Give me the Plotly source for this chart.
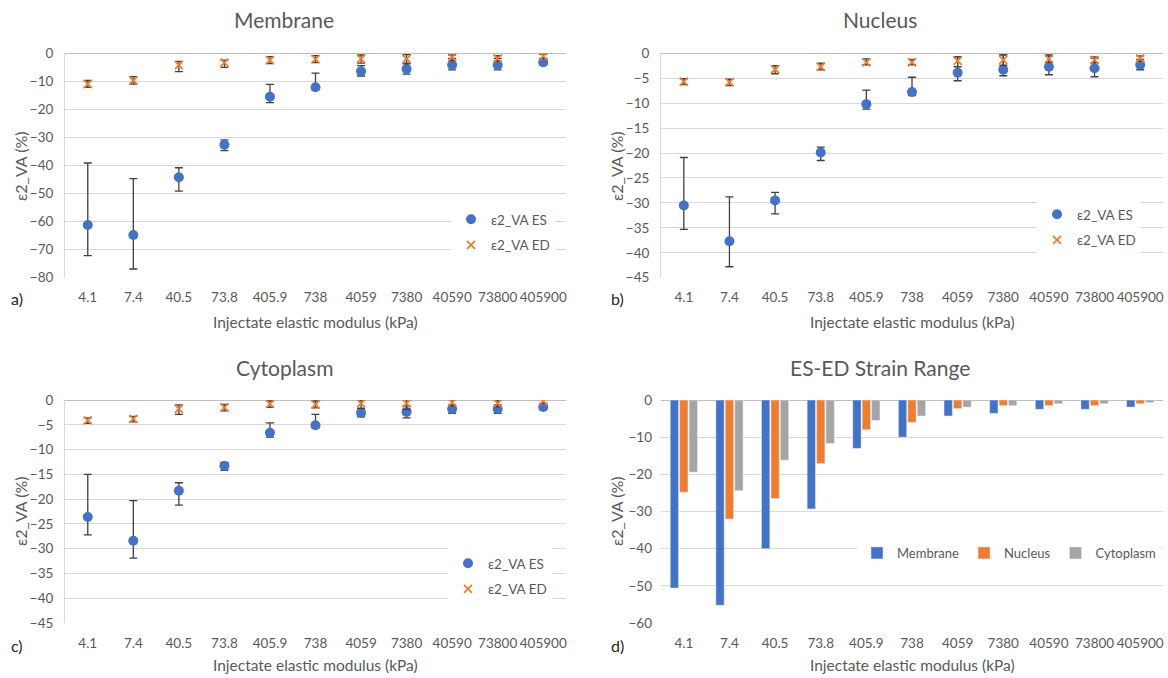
import plotly.graph_objects as go

# Injectate elastic modulus categories (kPa)
moduli = ["4.1", "7.4", "40.5", "73.8", "405.9", "738", "4059", "7380", "40590", "73800", "405900"]

# Membrane strain (%), ES mean with upper/lower error bar bounds, ED mean with errors
membrane_es = [-61.2, -64.8, -44.2, -32.6, -15.5, -12.1, -6.4, -5.6, -4.2, -4.2, -3.2]
membrane_es_hi = [-39.1, -44.7, -40.8, -30.9, -11.1, -7.1, -4.4, -3.5, -1.8, -1.8, -2.1]
membrane_es_lo = [-72.1, -76.9, -49.1, -34.7, -17.6, -13.0, -8.1, -7.4, -5.9, -5.9, -4.2]
membrane_ed = [-11.0, -9.7, -4.2, -3.3, -2.4, -2.1, -2.0, -2.0, -1.4, -1.8, -1.0]
membrane_ed_up = [1.3, 1.4, 1.3, 0.9, 1.2, 1.3, 1.4, 1.5, 0.8, 1.0, 0.6]
membrane_ed_dn = [1.1, 1.3, 2.3, 1.7, 1.3, 1.2, 1.5, 1.8, 1.2, 1.0, 0.8]

# Nucleus strain (%)
nucleus_es = [-30.5, -37.7, -29.5, -19.9, -10.2, -7.75, -3.9, -3.3, -2.7, -3.0, -2.3]
nucleus_es_hi = [-20.9, -28.8, -27.9, -18.8, -7.4, -4.8, -0.7, -0.3, -0.5, -1.0, -1.2]
nucleus_es_lo = [-35.3, -42.8, -32.2, -21.5, -11.2, -8.5, -5.5, -4.5, -4.3, -4.7, -3.3]
nucleus_ed = [-5.7, -5.8, -3.2, -2.7, -1.8, -1.8, -1.5, -1.3, -1.1, -1.3, -1.0]
nucleus_ed_up = [0.6, 0.6, 0.7, 0.7, 0.7, 0.6, 0.8, 1.0, 0.8, 0.6, 0.5]
nucleus_ed_dn = [0.6, 0.7, 0.9, 0.6, 0.5, 0.5, 1.2, 1.1, 0.7, 0.6, 0.6]

# Cytoplasm strain (%)
cytoplasm_es = [-23.6, -28.4, -18.3, -13.3, -6.6, -5.1, -2.6, -2.4, -1.8, -1.8, -1.4]
cytoplasm_es_hi = [-15.0, -20.3, -16.7, -12.6, -4.6, -2.9, -1.7, -1.2, -1.0, -1.0, -0.9]
cytoplasm_es_lo = [-27.2, -31.9, -21.2, -14.2, -7.5, -5.6, -3.4, -3.6, -2.7, -2.7, -2.0]
cytoplasm_ed = [-4.1, -3.8, -1.8, -1.5, -0.8, -0.9, -0.7, -0.7, -0.5, -0.7, -0.2]
cytoplasm_ed_up = [0.5, 0.5, 0.8, 0.6, 0.6, 0.7, 0.7, 0.8, 0.6, 0.7, 0.5]
cytoplasm_ed_dn = [0.6, 0.6, 1.1, 0.7, 0.7, 0.7, 1.0, 1.2, 0.7, 0.7, 0.5]

# ES-ED strain range (%)
range_membrane = [-50.6, -55.2, -40.0, -29.3, -13.0, -10.0, -4.3, -3.6, -2.5, -2.5, -1.9]
range_nucleus = [-24.8, -32.0, -26.5, -17.1, -8.0, -6.0, -2.3, -1.5, -1.5, -1.5, -1.0]
range_cytoplasm = [-19.4, -24.4, -16.2, -11.7, -5.5, -4.3, -1.9, -1.5, -1.0, -1.0, -0.7]

W, H = 1168, 678
FONT = "Lato"
TXT = "#595959"
BLUE, ORANGE, GRAY = "#4472C4", "#ED7D31", "#A5A5A5"
ERR = "#404040"


def px(x, y):
    return x / W, 1 - y / H


fig = go.Figure()

panels = [
    ("x", "y", "legend", membrane_es, membrane_es_hi, membrane_es_lo, membrane_ed, membrane_ed_up, membrane_ed_dn),
    ("x2", "y2", "legend2", nucleus_es, nucleus_es_hi, nucleus_es_lo, nucleus_ed, nucleus_ed_up, nucleus_ed_dn),
    ("x3", "y3", "legend3", cytoplasm_es, cytoplasm_es_hi, cytoplasm_es_lo, cytoplasm_ed, cytoplasm_ed_up, cytoplasm_ed_dn),
]

for xa, ya, lg, es, es_hi, es_lo, ed, ed_up, ed_dn in panels:
    fig.add_trace(go.Scatter(
        x=moduli, y=es, mode="markers", name="ε2_VA ES", xaxis=xa, yaxis=ya,
        legend=lg, legendgroup=lg + "es",
        marker=dict(symbol="circle", size=10, color=BLUE),
        error_y=dict(type="data", symmetric=False,
                     array=[h - v for h, v in zip(es_hi, es)],
                     arrayminus=[v - l for v, l in zip(es, es_lo)],
                     color=ERR, thickness=1.3, width=4),
    ))
    fig.add_trace(go.Scatter(
        x=moduli, y=ed, mode="markers", name="ε2_VA ED", xaxis=xa, yaxis=ya,
        legend=lg, legendgroup=lg + "ed",
        marker=dict(symbol="x-thin", size=8, color=ORANGE, line=dict(color=ORANGE, width=1.8)),
        error_y=dict(type="data", symmetric=False, array=ed_up, arrayminus=ed_dn,
                     color=ERR, thickness=1.3, width=4),
    ))

for name, vals, col in [("Membrane", range_membrane, BLUE),
                        ("Nucleus", range_nucleus, ORANGE),
                        ("Cytoplasm", range_cytoplasm, GRAY)]:
    fig.add_trace(go.Bar(x=moduli, y=vals, name=name, marker_color=col,
                         xaxis="x4", yaxis="y4", legend="legend4"))

left_dom = [65 / W, 566 / W]
right_dom = [661 / W, 1163 / W]
top_dom = [1 - 277.7 / H, 1 - 53.3 / H]
bot_dom = [1 - 623 / H, 1 - 400 / H]


def xaxis(dom, anchor):
    return dict(domain=dom, anchor=anchor, type="category", range=[-0.5, 10.5],
                showgrid=False, showline=False, zeroline=False, ticks="", automargin=False,
                tickfont=dict(family=FONT, size=13.5, color=TXT), ticklabelstandoff=10,
                fixedrange=True)


def yaxis(dom, anchor, rng, dt, line):
    return dict(domain=dom, anchor=anchor, range=rng, dtick=dt, tick0=0, automargin=False,
                showgrid=True, gridcolor="#D9D9D9", gridwidth=1,
                zeroline=True, zerolinecolor="#BFBFBF", zerolinewidth=1,
                showline=line, linecolor="#D9D9D9", linewidth=1, ticks="",
                tickfont=dict(family=FONT, size=13.5, color=TXT), ticklabelstandoff=8,
                fixedrange=True)


legend_common = dict(bgcolor="white", borderwidth=0, font=dict(family=FONT, size=13.5, color=TXT),
                     xanchor="left", yanchor="top", traceorder="grouped", tracegroupgap=5,
                     itemclick=False, itemdoubleclick=False)

lx1, ly1 = px(451, 204)
lx2, ly2 = px(1037, 199)
lx3, ly3 = px(448, 548)
lx4, ly4 = px(857, 538)

fig.update_layout(
    width=W, height=H, margin=dict(l=0, r=0, t=0, b=0, autoexpand=False),
    paper_bgcolor="white", plot_bgcolor="white",
    font=dict(family=FONT, color=TXT),
    barmode="group", bargap=0.38, bargroupgap=0.12,
    xaxis=xaxis(left_dom, "y"), yaxis=yaxis(top_dom, "x", [-80, 0], 10, True),
    xaxis2=xaxis(right_dom, "y2"), yaxis2=yaxis(top_dom, "x2", [-45, 0], 5, True),
    xaxis3=xaxis(left_dom, "y3"), yaxis3=yaxis(bot_dom, "x3", [-45, 0], 5, True),
    xaxis4=xaxis(right_dom, "y4"), yaxis4=yaxis(bot_dom, "x4", [-60, 0], 10, False),
    legend=dict(legend_common, x=lx1, y=ly1),
    legend2=dict(legend_common, x=lx2, y=ly2),
    legend3=dict(legend_common, x=lx3, y=ly3),
    legend4=dict(bgcolor="white", borderwidth=0, font=dict(family=FONT, size=13, color=TXT),
                 orientation="h", xanchor="left", yanchor="top", x=lx4, y=ly4,
                 itemclick=False, itemdoubleclick=False),
    showlegend=True,
)

annotations = []
# Panel titles
for text, cx, cy in [("Membrane", 284, 20), ("Nucleus", 880, 20),
                     ("Cytoplasm", 284, 367), ("ES-ED Strain Range", 880, 367)]:
    x, y = px(cx, cy)
    annotations.append(dict(text=text, x=x, y=y, xref="paper", yref="paper", showarrow=False,
                            xanchor="center", yanchor="middle",
                            font=dict(family=FONT, size=21, color=TXT)))
# Axis titles
for cx, cy in [(315, 322), (912, 322), (315, 665), (912, 665)]:
    x, y = px(cx, cy)
    annotations.append(dict(text="Injectate elastic modulus (kPa)", x=x, y=y, xref="paper", yref="paper",
                            showarrow=False, xanchor="center", yanchor="middle",
                            font=dict(family=FONT, size=15.5, color=TXT)))
for cx, cy in [(20, 166), (616, 166), (20, 511), (616, 511)]:
    x, y = px(cx, cy)
    annotations.append(dict(text="ε2_VA (%)", x=x, y=y, xref="paper", yref="paper", textangle=-90,
                            showarrow=False, xanchor="center", yanchor="middle",
                            font=dict(family=FONT, size=16, color=TXT)))
# Panel letters
for text, cx, cy in [("a)", 17, 298), ("b)", 617, 298), ("c)", 17, 645), ("d)", 617, 645)]:
    x, y = px(cx, cy)
    annotations.append(dict(text=text, x=x, y=y, xref="paper", yref="paper", showarrow=False,
                            xanchor="center", yanchor="middle",
                            font=dict(family=FONT, size=16, color="#262626")))
fig.update_layout(annotations=annotations)

fig.write_html("out.html", config={"displayModeBar": False})
